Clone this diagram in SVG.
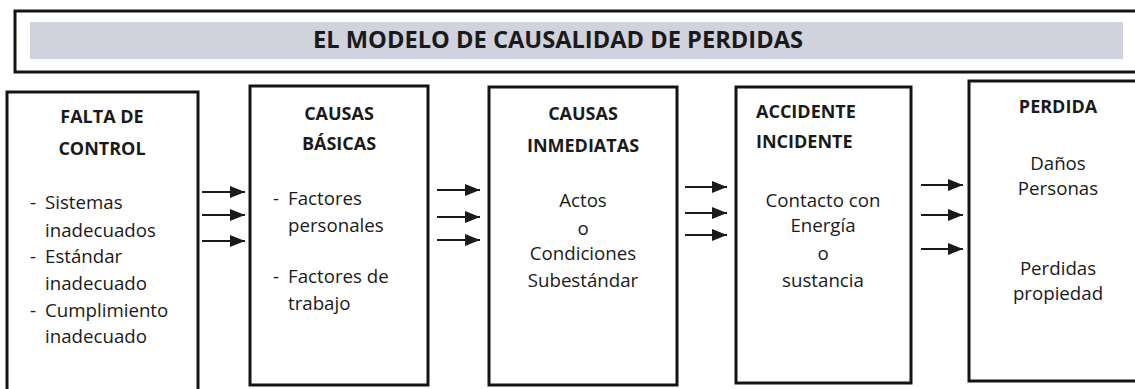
<svg xmlns="http://www.w3.org/2000/svg" width="1135" height="389" viewBox="0 0 1135 389">
<defs>
<style>
.box{fill:#fff;stroke:#141414;stroke-width:3}
.h{font-family:"Open Sans","Liberation Sans",sans-serif;font-weight:bold;font-size:18px;fill:#1a1a1a}
.t{font-family:"Open Sans","Liberation Sans",sans-serif;font-size:18.7px;fill:#1a1a1a}
.c{text-anchor:middle}
.arr{stroke:#1a1a1a;stroke-width:2;fill:none;marker-end:url(#ah)}
</style>
<marker id="ah" markerUnits="userSpaceOnUse" markerWidth="15" markerHeight="12" refX="15" refY="6" orient="auto">
<path d="M0,0 L15,6 L0,12 Z" fill="#1a1a1a"/>
</marker>
</defs>
<rect width="1135" height="389" fill="#fff"/>
<g id="title">
<rect x="15" y="11" width="1130" height="61" fill="#fff" stroke="#141414" stroke-width="3"/>
<rect x="30" y="22" width="1093" height="37" fill="#d0d2dd"/>
<text x="558" y="48" class="h c" style="font-size:24px" textLength="490" lengthAdjust="spacingAndGlyphs">EL MODELO DE CAUSALIDAD DE PERDIDAS</text>
</g>
<g id="falta-de-control">
<rect class="box" x="7" y="92" width="191" height="320"/>
<text class="h c" x="102" y="123">FALTA DE</text>
<text class="h c" x="102" y="155">CONTROL</text>
<text class="t" x="30" y="209">-</text><text class="t" x="45" y="209">Sistemas</text>
<text class="t" x="45" y="237">inadecuados</text>
<text class="t" x="30" y="263">-</text><text class="t" x="45" y="263">Estándar</text>
<text class="t" x="45" y="290">inadecuado</text>
<text class="t" x="30" y="317">-</text><text class="t" x="45" y="317">Cumplimiento</text>
<text class="t" x="45" y="343">inadecuado</text>
</g>
<g id="causas-basicas">
<rect class="box" x="250" y="86" width="178" height="299"/>
<text class="h c" x="339" y="120">CAUSAS</text>
<text class="h c" x="339" y="150">BÁSICAS</text>
<text class="t" x="273" y="205">-</text><text class="t" x="288" y="205">Factores</text>
<text class="t" x="288" y="232">personales</text>
<text class="t" x="273" y="283">-</text><text class="t" x="288" y="283">Factores de</text>
<text class="t" x="288" y="310">trabajo</text>
</g>
<g id="causas-inmediatas">
<rect class="box" x="489" y="87" width="188" height="298"/>
<text class="h c" x="583" y="120">CAUSAS</text>
<text class="h c" x="583" y="152">INMEDIATAS</text>
<text class="t c" x="583" y="207">Actos</text>
<text class="t c" x="583" y="235">o</text>
<text class="t c" x="583" y="260">Condiciones</text>
<text class="t c" x="583" y="287">Subestándar</text>
</g>
<g id="accidente-incidente">
<rect class="box" x="736" y="87" width="175" height="296"/>
<text class="h" x="756" y="118">ACCIDENTE</text>
<text class="h" x="756" y="148">INCIDENTE</text>
<text class="t c" x="823" y="207">Contacto con</text>
<text class="t c" x="823" y="232">Energía</text>
<text class="t c" x="823" y="260">o</text>
<text class="t c" x="823" y="287">sustancia</text>
</g>
<g id="perdida">
<rect class="box" x="969" y="81" width="200" height="300"/>
<text class="h c" x="1058" y="113">PERDIDA</text>
<text class="t c" x="1058" y="170">Daños</text>
<text class="t c" x="1058" y="195">Personas</text>
<text class="t c" x="1058" y="275">Perdidas</text>
<text class="t c" x="1058" y="300">propiedad</text>
</g>
<g id="connectors">
<path class="arr" d="M202,192 H245"/>
<path class="arr" d="M202,215 H245"/>
<path class="arr" d="M202,241 H245"/>
<path class="arr" d="M437,190 H480"/>
<path class="arr" d="M437,217 H480"/>
<path class="arr" d="M437,240 H480"/>
<path class="arr" d="M685,187 H727"/>
<path class="arr" d="M685,213 H727"/>
<path class="arr" d="M685,235 H727"/>
<path class="arr" d="M921,185 H963"/>
<path class="arr" d="M921,215 H963"/>
<path class="arr" d="M921,249 H963"/>
</g>
</svg>
